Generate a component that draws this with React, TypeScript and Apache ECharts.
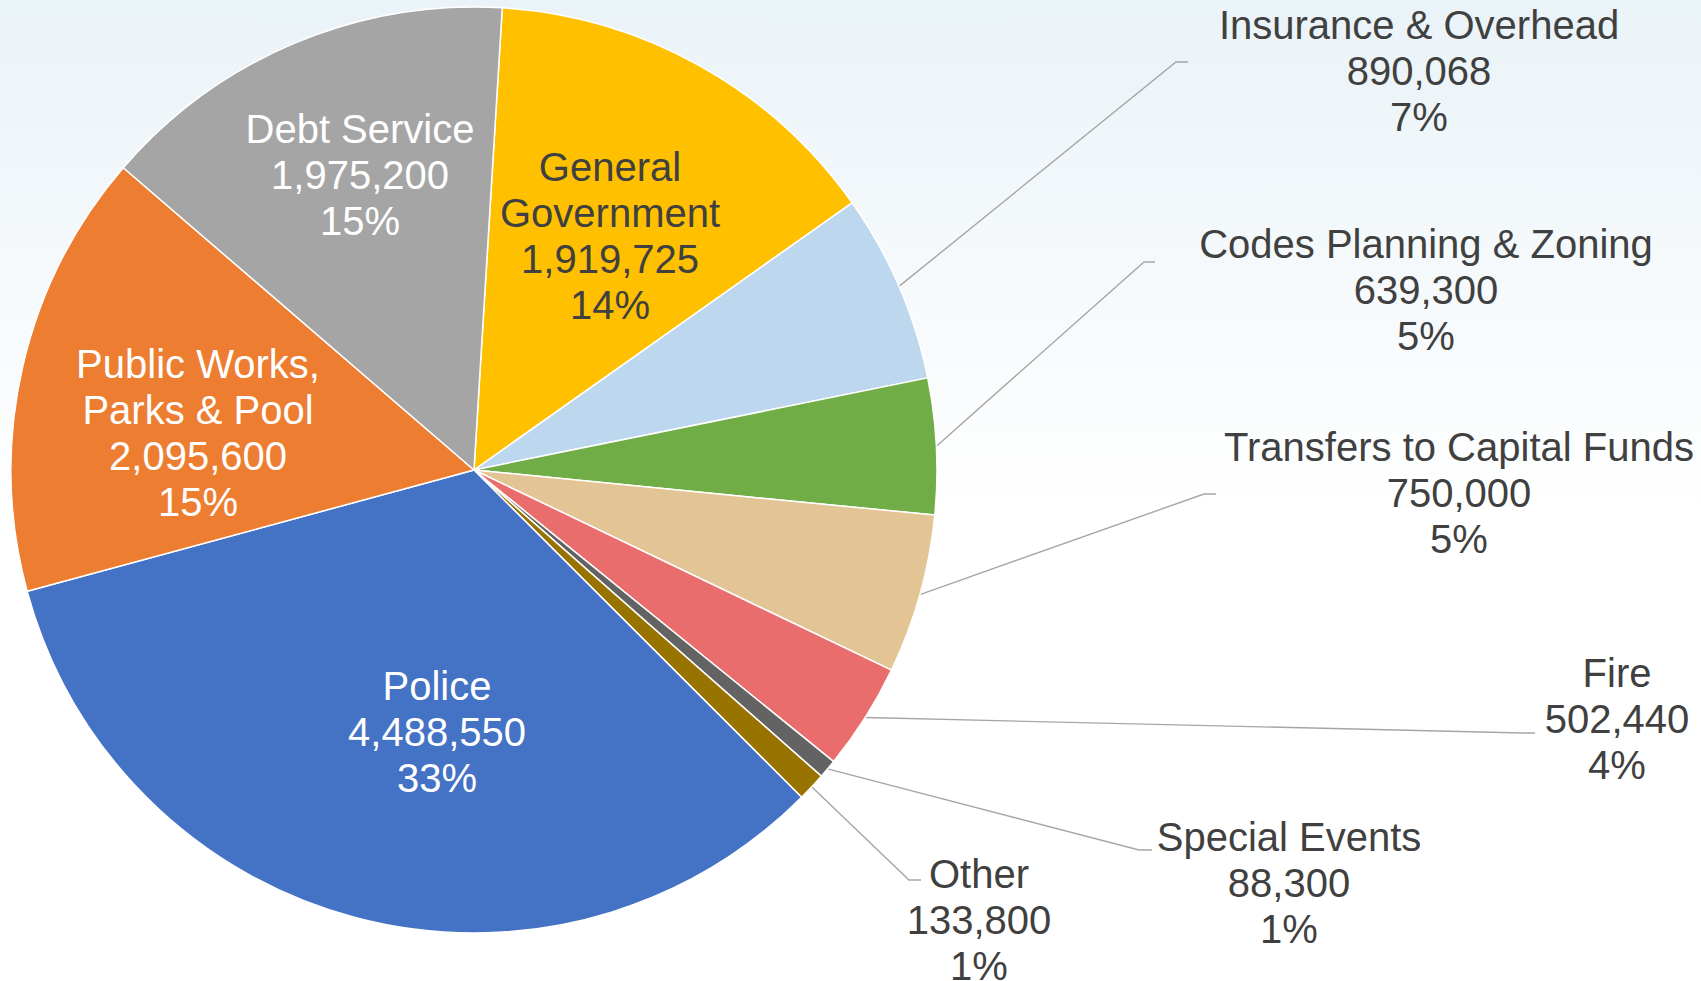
import React, { useEffect, useRef } from "react";
import * as echarts from "echarts";

// ---- Data (clockwise from the top of the pie) ----
const categories = [
  "General Government",
  "Insurance & Overhead",
  "Codes Planning & Zoning",
  "Transfers to Capital Funds",
  "Fire",
  "Special Events",
  "Other",
  "Police",
  "Public Works, Parks & Pool",
  "Debt Service",
];
const amounts = [1919725, 890068, 639300, 750000, 502440, 88300, 133800, 4488550, 2095600, 1975200];
const percentLabels = ["14%", "7%", "5%", "5%", "4%", "1%", "1%", "33%", "15%", "15%"];
const labelNames = [
  "General\nGovernment",
  "Insurance & Overhead",
  "Codes Planning & Zoning",
  "Transfers to Capital Funds",
  "Fire",
  "Special Events",
  "Other",
  "Police",
  "Public Works,\nParks & Pool",
  "Debt Service",
];

// ---- Styles / layout ----
const sliceColors = [
  "#FFC000",
  "#BDD7EE",
  "#70AD47",
  "#E3C495",
  "#E96D6D",
  "#636363",
  "#997300",
  "#4472C4",
  "#ED7D31",
  "#A5A5A5",
];
const labelInside = [true, false, false, false, false, false, false, true, true, true];
const labelColors = ["#404040", "#404040", "#404040", "#404040", "#404040", "#404040", "#404040", "#FFFFFF", "#FFFFFF", "#FFFFFF"];
const labelCenters: [number, number][] = [
  [610, 236],
  [1419, 71],
  [1426, 289.5],
  [1459, 493],
  [1617, 719],
  [1289, 882.5],
  [979, 919.5],
  [437, 731.5],
  [198, 432.5],
  [360, 175],
];
const leaderBends: ([number, number][] | null)[] = [
  null,
  [[1176, 62], [1188, 62]],
  [[1144, 262], [1155, 262]],
  [[1204, 494], [1216, 494]],
  [[1523, 733], [1535, 733]],
  [[1139, 850], [1152, 850]],
  [[909, 880], [921, 880]],
  null,
  null,
  null,
];

const FONT = "'Liberation Sans', Arial, Helvetica, sans-serif";

export default function App() {
  const ref = useRef<HTMLDivElement>(null);

  useEffect(() => {
    if (!ref.current) return;
    const chart = echarts.init(ref.current, null, { renderer: "svg" });
    chart.setOption({
      animation: false,
      backgroundColor: "transparent",
      series: [
        {
          type: "pie",
          center: [474, 470],
          radius: [0, 463],
          startAngle: 86.5,
          clockwise: true,
          avoidLabelOverlap: false,
          emphasis: { disabled: true },
          itemStyle: { borderColor: "#FFFFFF", borderWidth: 1.5 },
          label: {
            fontFamily: FONT,
            fontSize: 40,
            lineHeight: 46,
            align: "center",
            formatter: (p: any) =>
              `${labelNames[p.dataIndex]}\n${Number(p.value).toLocaleString("en-US")}\n${percentLabels[p.dataIndex]}`,
          },
          labelLine: {
            lineStyle: { color: "#A6A6A6", width: 1.4 },
          },
          labelLayout: (params: any) => {
            const i = params.dataIndex;
            const c = labelCenters[i];
            const res: any = { x: c[0], y: c[1], align: "center", verticalAlign: "middle" };
            const bend = leaderBends[i];
            if (bend && params.labelLinePoints && params.labelLinePoints.length) {
              res.labelLinePoints = [params.labelLinePoints[0], bend[0], bend[1]];
            }
            return res;
          },
          data: categories.map((name, i) => ({
            name,
            value: amounts[i],
            itemStyle: { color: sliceColors[i] },
            label: {
              position: labelInside[i] ? "inside" : "outside",
              color: labelColors[i],
            },
            labelLine: { show: !labelInside[i] },
          })),
        },
      ],
    });
    return () => chart.dispose();
  }, []);

  return (
    <div
      ref={ref}
      style={{
        position: "fixed",
        left: 0,
        top: 0,
        width: 1701,
        height: 981,
        background: "linear-gradient(to bottom, #EAF3F8 0%, #F3F8FB 22%, #FFFFFF 52%, #FFFFFF 100%)",
      }}
    />
  );
}
